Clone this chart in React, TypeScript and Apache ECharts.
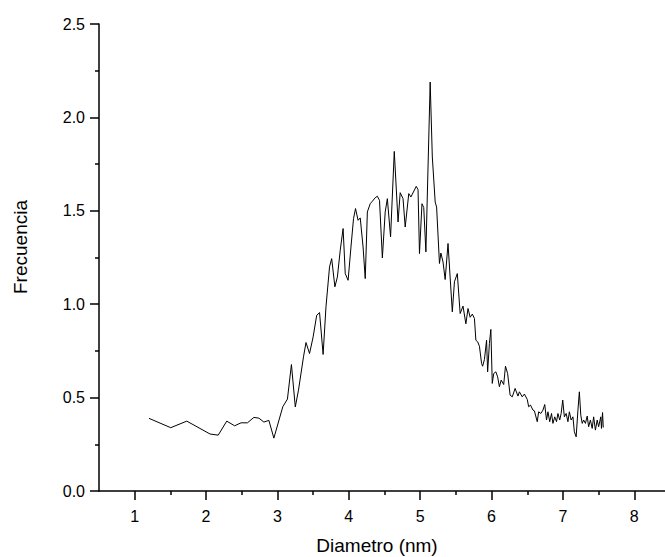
import React, { useEffect, useRef } from "react";
import * as echarts from "echarts";

const diametro: number[] = [
  1.2, 1.505, 1.73, 2.056, 2.17, 2.29, 2.4, 2.49, 2.58, 2.67, 2.74, 2.81, 2.88, 2.95,
  3.075, 3.14, 3.196, 3.25, 3.295, 3.365, 3.4, 3.45, 3.5, 3.55, 3.59, 3.64, 3.68, 3.73,
  3.76, 3.805, 3.84, 3.88, 3.92, 3.95, 3.99, 4.03, 4.066, 4.094, 4.13, 4.16, 4.2, 4.23,
  4.26, 4.3, 4.33, 4.37, 4.4, 4.43, 4.47, 4.51, 4.54, 4.585, 4.637, 4.69, 4.72, 4.76,
  4.79, 4.84, 4.87, 4.945, 4.97, 4.99, 5.025, 5.05, 5.08, 5.14, 5.17, 5.21, 5.23, 5.27,
  5.29, 5.32, 5.35, 5.39, 5.45, 5.48, 5.52, 5.56, 5.6, 5.64, 5.67, 5.7, 5.73, 5.76,
  5.78, 5.805, 5.83, 5.86, 5.875, 5.9, 5.93, 5.945, 5.97, 5.99, 6.01, 6.03, 6.06, 6.085,
  6.11, 6.135, 6.17, 6.195, 6.225, 6.26, 6.29, 6.33, 6.37, 6.39, 6.43, 6.46, 6.5, 6.52,
  6.545, 6.58, 6.6, 6.64, 6.66, 6.69, 6.72, 6.745, 6.77, 6.79, 6.815, 6.84, 6.86, 6.885,
  6.91, 6.93, 6.955, 6.975, 6.997, 7.02, 7.045, 7.07, 7.09, 7.115, 7.14, 7.16, 7.185,
  7.21, 7.23, 7.25, 7.27, 7.29, 7.315, 7.34, 7.36, 7.385, 7.41, 7.43, 7.455, 7.48, 7.5,
  7.53, 7.54, 7.555, 7.565,
];

const frecuencia: number[] = [
  0.389, 0.339, 0.374, 0.305, 0.299, 0.374, 0.349, 0.365, 0.365, 0.394, 0.39, 0.369, 0.378, 0.283,
  0.451, 0.492, 0.677, 0.45, 0.54, 0.718, 0.795, 0.736, 0.825, 0.941, 0.955, 0.731, 0.986, 1.2,
  1.244, 1.093, 1.146, 1.289, 1.405, 1.164, 1.128, 1.306, 1.458, 1.512, 1.449, 1.462, 1.306, 1.137,
  1.494, 1.538, 1.551, 1.57, 1.578, 1.556, 1.248, 1.494, 1.565, 1.36, 1.818, 1.44, 1.597, 1.565,
  1.413, 1.592, 1.574, 1.631, 1.613, 1.271, 1.538, 1.517, 1.28, 2.189, 1.788, 1.547, 1.52, 1.218,
  1.274, 1.226, 1.132, 1.325, 0.959, 1.12, 1.164, 0.95, 0.99, 0.895, 0.977, 0.93, 0.947, 0.924,
  0.807, 0.799, 0.775, 0.683, 0.668, 0.704, 0.807, 0.638, 0.79, 0.865, 0.576, 0.629, 0.638, 0.611,
  0.558, 0.594, 0.57, 0.668, 0.629, 0.513, 0.504, 0.549, 0.508, 0.531, 0.504, 0.519, 0.49, 0.451,
  0.46, 0.433, 0.429, 0.371, 0.424, 0.415, 0.433, 0.463, 0.38, 0.424, 0.371, 0.415, 0.362, 0.397,
  0.371, 0.415, 0.38, 0.415, 0.487, 0.397, 0.415, 0.371, 0.424, 0.38, 0.397, 0.317, 0.29,
  0.433, 0.531, 0.406, 0.362, 0.38, 0.362, 0.401, 0.344, 0.38, 0.335, 0.397, 0.326, 0.38, 0.344,
  0.397, 0.335, 0.42, 0.34,
];

const xMajorTicks: number[] = [1, 2, 3, 4, 5, 6, 7, 8];
const xMinorTicks: number[] = [1.5, 2.5, 3.5, 4.5, 5.5, 6.5, 7.5];

const FONT = "Liberation Sans, Arial, sans-serif";

export default function App() {
  const ref = useRef<HTMLDivElement>(null);

  useEffect(() => {
    if (!ref.current) return;
    const chart = echarts.init(ref.current, null, { renderer: "svg" });
    const data = diametro.map((d, i) => [d, frecuencia[i]]);
    chart.setOption({
      animation: false,
      backgroundColor: "#ffffff",
      grid: {
        left: 99,
        top: 24,
        right: -5,
        bottom: 66,
        containLabel: false,
        outerBoundsMode: "none",
      },
      xAxis: [
        {
          type: "value",
          min: 0.5,
          max: 8.5,
          position: "bottom",
          axisLine: { show: true, onZero: false, lineStyle: { color: "#000", width: 1.5 } },
          axisTick: {
            show: true,
            customValues: xMajorTicks,
            length: 9,
            lineStyle: { color: "#000", width: 1.5 },
          },
          axisLabel: {
            customValues: xMajorTicks,
            color: "#000",
            fontFamily: FONT,
            fontSize: 16,
            margin: 17,
          },
          splitLine: { show: false },
        },
        {
          type: "value",
          min: 0.5,
          max: 8.5,
          position: "bottom",
          axisLine: { show: false },
          axisTick: {
            show: true,
            customValues: xMinorTicks,
            length: 4,
            lineStyle: { color: "#000", width: 1.5 },
          },
          axisLabel: { show: false },
          splitLine: { show: false },
        },
      ],
      yAxis: {
        type: "value",
        min: 0,
        max: 2.5,
        interval: 0.5,
        axisLine: { show: true, onZero: false, lineStyle: { color: "#000", width: 1.5 } },
        axisTick: { show: true, length: 9, lineStyle: { color: "#000", width: 1.5 } },
        minorTick: { show: true, splitNumber: 2, length: 4, lineStyle: { color: "#000", width: 1.5 } },
        axisLabel: {
          color: "#000",
          fontFamily: FONT,
          fontSize: 16,
          margin: 14,
          formatter: (v: number) => v.toFixed(1),
        },
        splitLine: { show: false },
      },
      graphic: [
        {
          type: "text",
          x: 20,
          y: 247,
          rotation: Math.PI / 2,
          style: {
            text: "Frecuencia",
            fill: "#000",
            font: `19px ${FONT}`,
            textAlign: "center",
            textVerticalAlign: "middle",
          },
        },
        {
          type: "text",
          x: 377,
          y: 545,
          style: {
            text: "Diametro (nm)",
            fill: "#000",
            font: `19px ${FONT}`,
            textAlign: "center",
            textVerticalAlign: "middle",
          },
        },
      ],
      series: [
        {
          type: "line",
          data,
          showSymbol: false,
          symbol: "none",
          lineStyle: { color: "#000", width: 1 },
          xAxisIndex: 0,
          yAxisIndex: 0,
        },
      ],
    });
    return () => chart.dispose();
  }, []);

  return (
    <div
      ref={ref}
      style={{ position: "absolute", left: 0, top: 0, width: 665, height: 557 }}
    />
  );
}
